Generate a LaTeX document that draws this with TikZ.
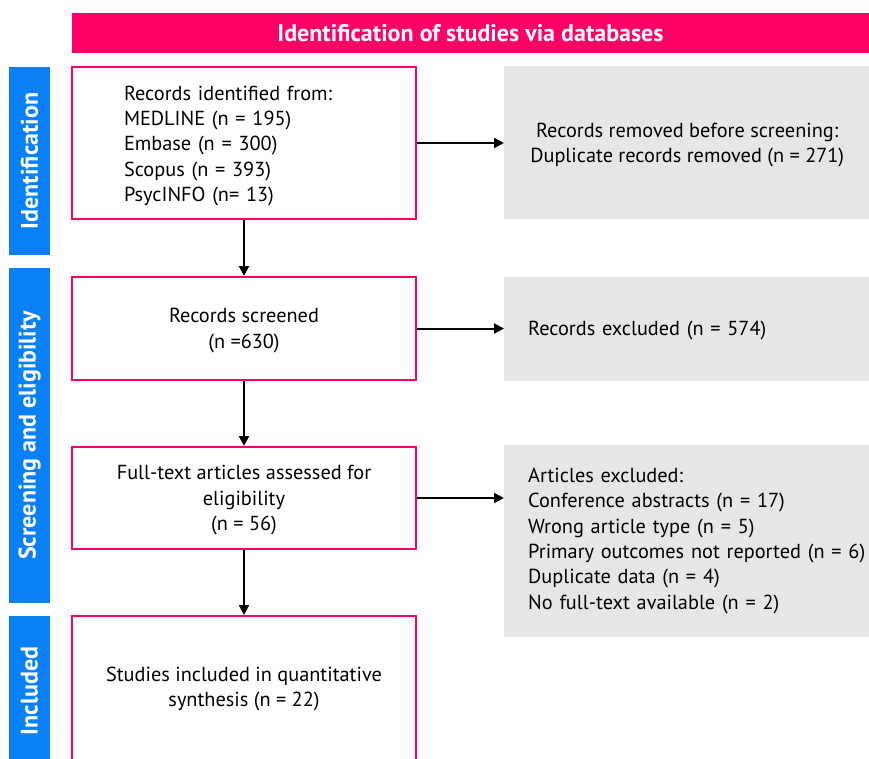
\documentclass[tikz,border=0pt]{standalone}
\usepackage{fontspec}
\setmainfont{PT Sans}
\usetikzlibrary{positioning,arrows.meta}
\definecolor{prismapink}{HTML}{FF0066}
\definecolor{prismablue}{HTML}{0A80F7}
\definecolor{prismagray}{HTML}{E6E6E6}

\begin{document}
\begin{tikzpicture}
      [ x=1pt, y=-1pt,
        >={Triangle[length=10pt,width=10pt]},
        recbox/.style={draw=prismapink, line width=2pt, fill=white,
          minimum width=344pt, align=center, inner sep=0pt, text depth=-2pt,
          font=\fontsize{20.3}{25.4}\selectfont},
        exclbox/.style={fill=prismagray, minimum width=366pt, inner sep=0pt,
          font=\fontsize{20.3}{25.4}\selectfont},
        phase/.style={fill=prismablue, text=white, minimum height=41pt,
          rotate=90, inner sep=0pt, font=\bfseries\fontsize{24}{26}\selectfont},
        flow/.style={->, line width=2pt}
      ]
      \useasboundingbox (0,0) rectangle (869,759);

      % header and phase bars
      \node[fill=prismapink, text=white, minimum width=797pt, minimum height=40pt,
            font=\bfseries\fontsize{24}{26}\selectfont]
            (header) at (470.5,33) {Identification of studies via databases};
      \node[phase, minimum width=188pt] (identphase)  at (29.5,161)   {Identification};
      \node[phase, minimum width=335pt] (screenphase) at (29.5,435.5) {Screening and eligibility};
      \node[phase, minimum width=150pt] (inclphase)   at (29.5,691)   {Included};

      % main flow
      \node[recbox, minimum height=152pt, text width=240pt, text depth=100pt, align=left]
            (records) at (244,143)
            {Records identified from:\\MEDLINE (n = 195)\\Embase (n = 300)\\Scopus (n = 393)\\PsycINFO (n= 13)};
      \node[recbox, minimum height=103pt] (screened) [below=56pt of records]
            {Records screened\\(n =630)};
      \node[recbox, minimum height=102pt] (fulltext) [below=65pt of screened]
            {Full-text articles assessed for\\eligibility\\(n = 56)};
      \node[recbox, minimum height=150pt, text depth=9pt] (included) [below=65pt of fulltext]
            {Studies included in quantitative\\synthesis (n = 22)};

      % exclusions
      \node[exclbox, minimum height=153pt, text depth=-2pt, align=center] (removed) [right=87pt of records]
            {Records removed before screening:\\Duplicate records removed (n = 271)};
      \node[exclbox, minimum height=104pt, text depth=-2pt, text width=318pt, align=left] (excluded) [right=87pt of screened]
            {Records excluded (n = 574)};
      \node[exclbox, minimum height=192pt, text width=318pt, align=left] (artexcl) [below=64pt of excluded]
            {Articles excluded:\\Conference abstracts (n = 17)\\Wrong article type (n = 5)\\
             \mbox{Primary outcomes not reported (n = 6)}\\Duplicate data (n = 4)\\No full-text available (n = 2)};

      \path[flow] (records)  edge (screened)
                  (screened) edge (fulltext)
                  (fulltext) edge (included)
                  (records)  edge (removed)
                  (screened) edge (excluded)
                  (fulltext.east) edge (fulltext.east -| artexcl.west);
    \end{tikzpicture}
\end{document}
